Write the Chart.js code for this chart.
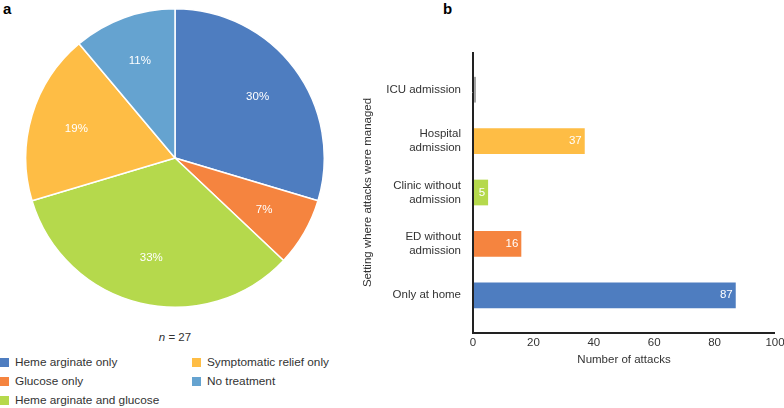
<!DOCTYPE html>
<html>
<head>
<meta charset="utf-8">
<script src="https://cdn.jsdelivr.net/npm/chart.js@4"></script>
<style>
  body { margin: 0; width: 784px; height: 408px; background: #fff; position: relative; overflow: hidden;
         font-family: "Liberation Sans", Arial, sans-serif; color: #333; }
  .panel { position: absolute; font-weight: bold; font-size: 15px; color: #000; }
  #pieBox { position: absolute; left: 25px; top: 8px; width: 300px; height: 300px; }
  #barBox { position: absolute; left: 360px; top: 0; width: 424px; height: 408px; }
  #nLabel { position: absolute; left: 0; width: 350px; top: 331px; text-align: center; font-size: 11.5px; }
  #legend { position: absolute; left: 0; top: 355px; width: 360px; font-size: 11.8px; }
  .item { position: absolute; height: 14px; line-height: 14px; white-space: nowrap; }
  .item span { display: inline-block; width: 9px; height: 9px; margin-right: 6px; vertical-align: -1px; }
</style>
</head>
<body>
<div class="panel" style="left:3px;top:0px;">a</div>
<div class="panel" style="left:443px;top:0px;">b</div>
<div id="pieBox"><canvas id="pieChart"></canvas></div>
<div id="nLabel"><i>n</i> = 27</div>
<div id="legend"></div>
<div id="barBox"><canvas id="barChart"></canvas></div>
<script>
  // panel a: treatment of attacks (n = 27)
  const treatments = ["Heme arginate only", "Glucose only", "Heme arginate and glucose", "Symptomatic relief only", "No treatment"];
  const treatmentCounts = [8, 2, 9, 5, 3];
  const treatmentColors = ["#4E7DC0", "#F5843F", "#B5D94C", "#FEBD45", "#65A3D0"];

  // panel b: setting where attacks were managed
  const settings = [["ICU admission"], ["Hospital", "admission"], ["Clinic without", "admission"], ["ED without", "admission"], ["Only at home"]];
  const attacks = [1, 37, 5, 16, 87];
  const settingColors = ["#A5A5A5", "#FEBD45", "#B5D94C", "#F5843F", "#4E7DC0"];
  const xTicks = [0, 20, 40, 60, 80, 100];

  const font = "Liberation Sans, Arial, sans-serif";
  Chart.defaults.font.family = font;
  Chart.defaults.font.size = 11.5;
  Chart.defaults.color = "#333";

  // legend, two columns
  const legendPos = [[0, 0], [0, 19], [0, 38], [192, 0], [192, 19]];
  const legend = document.getElementById("legend");
  treatments.forEach((t, i) => {
    const d = document.createElement("div");
    d.className = "item";
    d.style.left = legendPos[i][0] + "px";
    d.style.top = legendPos[i][1] + "px";
    d.innerHTML = '<span style="background:' + treatmentColors[i] + '"></span>' + t;
    legend.appendChild(d);
  });

  const total = treatmentCounts.reduce((a, b) => a + b, 0);

  const pieLabels = {
    id: "pieLabels",
    afterDatasetsDraw(chart) {
      const ctx = chart.ctx;
      ctx.save();
      ctx.fillStyle = "#fff";
      ctx.font = "11.5px " + font;
      ctx.textAlign = "center";
      ctx.textBaseline = "middle";
      chart.getDatasetMeta(0).data.forEach((arc, i) => {
        const mid = (arc.startAngle + arc.endAngle) / 2;
        const r = arc.outerRadius * 0.69;
        const pct = Math.round(treatmentCounts[i] / total * 100) + "%";
        ctx.fillText(pct, arc.x + Math.cos(mid) * r, arc.y + Math.sin(mid) * r);
      });
      ctx.restore();
    }
  };

  new Chart(document.getElementById("pieChart"), {
    type: "pie",
    data: {
      labels: treatments,
      datasets: [{
        data: treatmentCounts,
        backgroundColor: treatmentColors,
        borderColor: "#fff",
        borderWidth: 1.5
      }]
    },
    options: {
      responsive: true,
      maintainAspectRatio: false,
      animation: false,
      layout: { padding: 0 },
      plugins: { legend: { display: false }, tooltip: { enabled: false } }
    },
    plugins: [pieLabels]
  });

  const barExtras = {
    id: "barExtras",
    afterDatasetsDraw(chart) {
      const ctx = chart.ctx;
      const a = chart.chartArea;
      const xs = chart.scales.x;
      ctx.save();
      // axis lines, a bit longer than the category band
      ctx.strokeStyle = "#222";
      ctx.lineWidth = 2;
      ctx.beginPath();
      ctx.moveTo(a.left, a.top - 12);
      ctx.lineTo(a.left, a.bottom + 12);
      ctx.lineTo(xs.right, a.bottom + 12);
      ctx.stroke();
      // value labels
      ctx.fillStyle = "#fff";
      ctx.font = "11.5px " + font;
      ctx.textAlign = "right";
      ctx.textBaseline = "middle";
      chart.getDatasetMeta(0).data.forEach((bar, i) => {
        ctx.fillText(String(attacks[i]), bar.x - 3, bar.y);
      });
      ctx.restore();
    }
  };

  new Chart(document.getElementById("barChart"), {
    type: "bar",
    data: {
      labels: settings,
      datasets: [{
        data: attacks,
        backgroundColor: settingColors,
        barPercentage: 0.5,
        categoryPercentage: 1
      }]
    },
    options: {
      indexAxis: "y",
      responsive: true,
      maintainAspectRatio: false,
      animation: false,
      layout: { padding: { left: 1, right: 9, top: 64, bottom: 37 } },
      plugins: { legend: { display: false }, tooltip: { enabled: false } },
      scales: {
        x: {
          min: 0,
          max: 100,
          afterBuildTicks: s => { s.ticks = xTicks.map(v => ({ value: v })); },
          afterFit: s => { s.height = 50; s.paddingRight = 0; s.paddingLeft = 0; },
          grid: { display: false, drawTicks: false },
          border: { display: false },
          ticks: { padding: 15, color: "#333" },
          title: { display: true, text: "Number of attacks", color: "#333", padding: { top: 4, bottom: 4 } }
        },
        y: {
          afterFit: s => { s.width = 112; },
          grid: { display: false, drawTicks: false },
          border: { display: false },
          ticks: { padding: 12, color: "#333" },
          title: { display: true, text: "Setting where attacks were managed", color: "#333", padding: 0 }
        }
      }
    },
    plugins: [barExtras]
  });
</script>
</body>
</html>
